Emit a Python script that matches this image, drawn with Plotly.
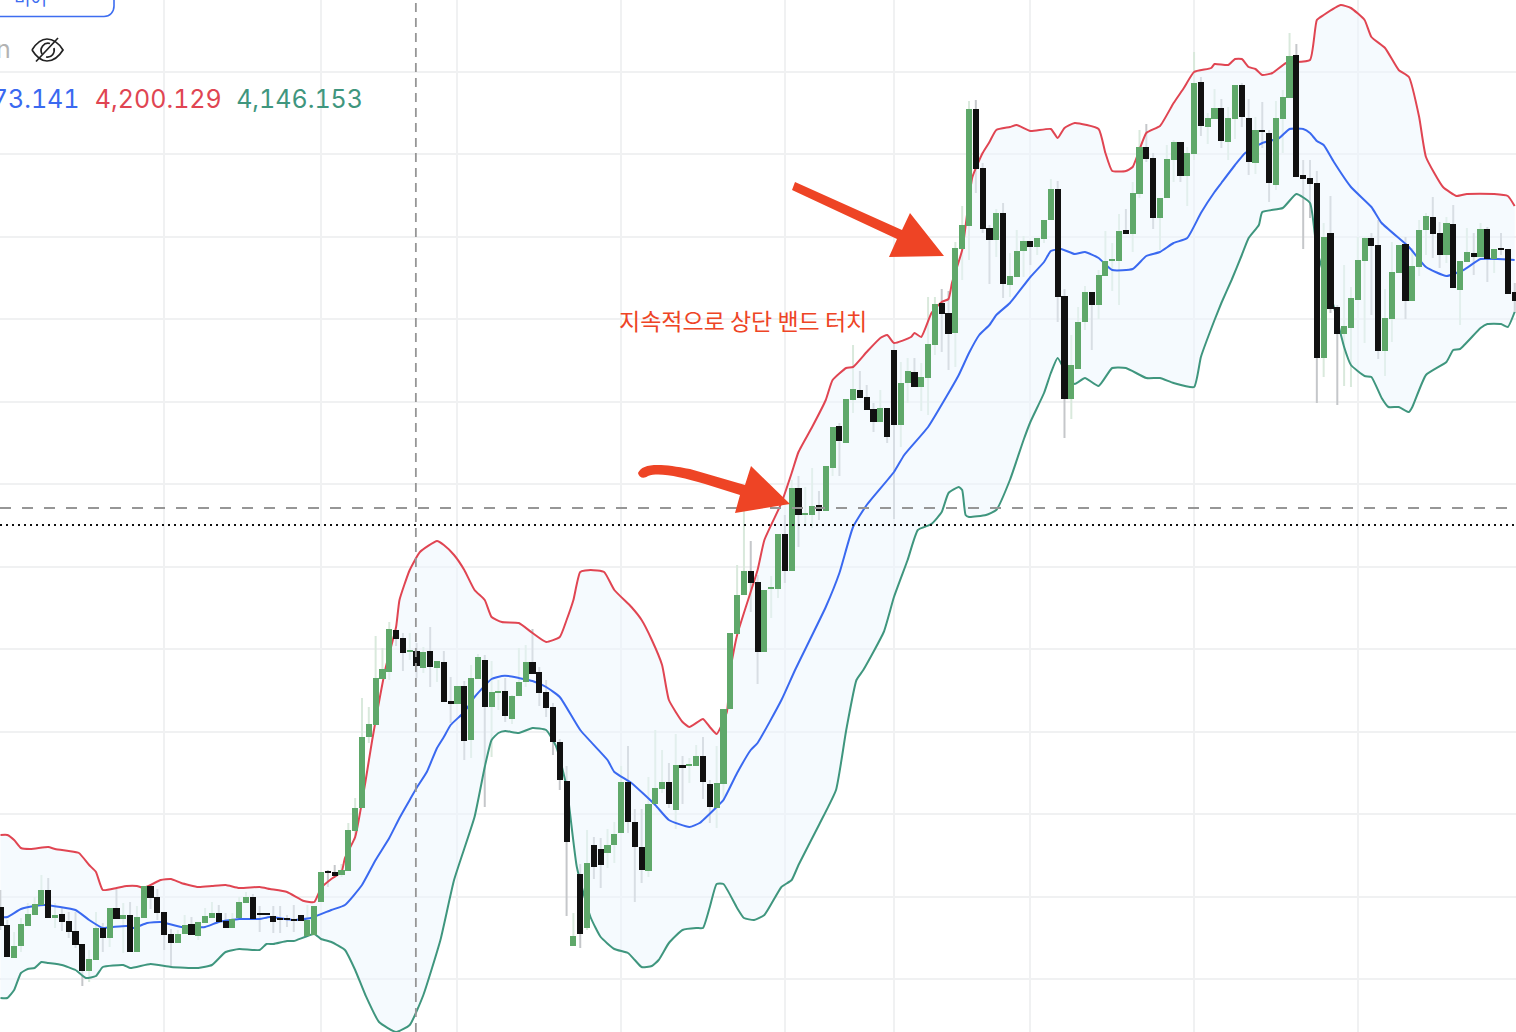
import plotly.graph_objects as go

highs = [3855,3840,3834,3841,3848.5,3851.5,3862.5,3861,3848.5,3846.5,
3844,3844,3828,3825,3844,3838.5,3846,3856,3848.5,3849,
3847,3857,3857,3855.5,3844,3835.5,3835,3842.5,3841.5,3839,
3846,3849,3847.5,3843.5,3843.5,3851.5,3854,3853,3847,3843.5,
3847,3847,3842.5,3847.5,3842.5,3847.5,3847,3864,3865,3867.5,
3868,3888.5,3901,3951,3946.5,3982,3976,3989,3985,3983.5,
3983.5,3978.5,3976.5,3986.5,3969.5,3974.5,3961.5,3957,3959.5,3967.5,
3973,3972.5,3969.5,3960,3961,3952.5,3976,3977.5,3985.5,3966.5,
3960,3948.5,3930.5,3917,3843.5,3868,3885,3881.5,3881,3885.5,
3889,3917,3927,3895.5,3895.5,3911.5,3935,3925,3918.5,3933,
3922,3921,3927.5,3931.5,3910,3927,3945.5,3983.5,4017.5,4045,
4029.5,4012.5,4005,4012,4033,4042.5,4060,4062,4056.5,4066,
4054.5,4067,4086.5,4088.5,4100.5,4127.5,4114.5,4107.5,4098.5,4105,
4096,4128.5,4119,4121,4121,4118.5,4151.5,4151.5,4155.5,4154.5,
4179,4197,4249.5,4250,4218.5,4187.5,4195.5,4198.5,4173.5,4185,
4182,4179.5,4181,4190,4210.5,4209.5,4155.5,4132.5,4146.5,4157,
4154,4165,4184.5,4178.5,4193,4195.5,4209,4235,4238,4223.5,
4201,4227.5,4230,4229,4226.5,4274,4261.5,4243.5,4255.5,4250.5,
4246.5,4257.5,4258.5,4250.5,4241.5,4249,4235,4249.5,4255,4283.5,
4278,4220,4220,4214.5,4188.5,4202,4147.5,4167.5,4156.5,4181.5,
4181.5,4183.5,4190,4155.5,4179,4177.5,4181.5,4176,4190,4193.5,
4201.5,4189,4191.5,4197.5,4169.5,4186,4183.5,4188.5,4186.5,4175.5,
4183.5,4175.5,4158.5]

body_top = [3846.5,3837.5,3827,3838,3843,3848,3855,3855,3842.5,3843,
3839.5,3834.5,3828,3820.5,3836,3836,3846,3846,3842.5,3842.5,
3841.5,3857,3857,3851.5,3844,3833,3833,3837.5,3838,3839,
3842,3843.5,3843.5,3839.5,3840.5,3849,3851.5,3851.5,3843.5,3843.5,
3842,3841,3841,3840.5,3842.5,3840,3847,3864,3864.5,3864,
3865,3885,3896,3931.5,3938,3961,3965.5,3985.5,3985,3981,
3975,3974.5,3974,3974.5,3969.5,3969,3949.5,3957,3957,3961,
3971.5,3970,3954,3954.5,3954.5,3952,3959,3969,3969,3964,
3954,3946.5,3929,3909.5,3832,3863,3868.5,3877.5,3875.5,3877.5,
3883,3909,3909,3889,3876.5,3898,3906,3909,3909,3917.5,
3917.5,3918,3922,3922,3908,3908.5,3945.5,3983.5,4002.5,4014.5,
4014.5,4009,4005,4006.5,4033,4033,4056,4056,4043.5,4047,
4047.5,4067,4086.5,4087,4100.5,4105.5,4105,4101.5,4095.5,4096,
4096,4125,4108.5,4114.5,4114,4111.5,4128,4148,4148.5,4143.5,
4176,4187.5,4245.5,4245.5,4216,4186,4193.5,4193.5,4162,4174.5,
4179.5,4179.5,4181,4190,4205.5,4205.5,4152,4117.5,4139,4154,
4154,4162.5,4169.5,4170.5,4184.5,4185,4203.5,4226.5,4226.5,4221,
4201,4220.5,4229,4229,4223.5,4258.5,4259,4241,4246,4246,
4241,4257.5,4257.5,4241,4235,4235,4233.5,4241,4251.5,4272,
4272.5,4212.5,4211,4208.5,4181.5,4183.5,4146.5,4137,4151,4170,
4181,4181,4177.5,4141,4164,4177.5,4178,4167,4185,4192,
4191.5,4183.5,4188.5,4188,4169.5,4174,4173.5,4185.5,4185.5,4175.5,
4176,4175.5,4154]

body_bottom = [3837,3821.5,3821,3827,3837,3842.5,3847.5,3841,3841,3839,
3834,3827.5,3814.5,3814.5,3820,3831,3831,3840.5,3840.5,3824,
3824,3841,3851,3843.5,3832.5,3828.5,3828.5,3833,3832.5,3832,
3838.5,3841,3839,3836,3836,3841,3848.5,3840.5,3842.5,3842.5,
3839,3840,3840,3839.5,3839.5,3832,3832.5,3849,3863.5,3862,
3862.5,3864.5,3884.5,3896,3931.5,3937.5,3960.5,3964,3980.5,3973.5,
3974,3967,3966,3966.5,3966,3949,3948,3948,3929.5,3930,
3960.5,3946.5,3946.5,3953.5,3942,3940.5,3952,3959,3963,3953.5,
3946,3929,3910,3879,3827,3833,3836,3866.5,3867.5,3873.5,
3877.5,3883.5,3889,3876.5,3865,3864.5,3898,3905.5,3898,3895,
3916,3917,3917,3909,3896.5,3896,3908,3945.5,3983,4002.5,
4008.5,3974,3974,4005.5,4005.5,4014.5,4014.5,4042.5,4042.5,4042.5,
4044.5,4044.5,4066,4079.5,4078.5,4100,4101,4095,4089,4089,
4081.5,4087.5,4087.5,4108.5,4106.5,4106.5,4111,4127.5,4143,4133,
4133.5,4175.5,4187,4215.5,4185.5,4180,4180,4158,4157.5,4161.5,
4174.5,4176.5,4176.5,4180.5,4190,4151.5,4100.5,4100.5,4115.5,4139,
4147.5,4147.5,4162,4169.5,4169.5,4183,4183,4203,4220.5,4191,
4191,4201,4220,4212,4212,4223,4237,4236.5,4240.5,4229.5,
4229,4240.5,4241.5,4219,4218.5,4234,4208.5,4207.5,4240.5,4251,
4211.5,4210.5,4208,4121,4121,4145.5,4133,4133,4136,4150,
4169.5,4177,4124.5,4124.5,4140.5,4163.5,4149.5,4149.5,4166.5,4185,
4183,4172.5,4172.5,4156,4155,4169,4171.5,4171.5,4170.5,4170.5,
4175,4153,4149.5]

lows = [3835,3821.5,3821,3824,3837,3842.5,3847.5,3841,3836,3834.5,
3831,3826,3807,3809,3820,3824,3826.5,3840.5,3823.5,3824,
3824,3841,3845.5,3840,3825,3816.5,3828.5,3833,3832.5,3830,
3838.5,3841,3839,3836,3836,3841,3848.5,3840.5,3834,3842.5,
3833.5,3833.5,3836.5,3834,3839.5,3832,3832.5,3849,3856.5,3861.5,
3861.5,3864.5,3880,3896,3928.5,3937.5,3960.5,3960,3977,3964.5,
3970,3961,3963.5,3956.5,3959,3949,3938.5,3948,3920,3921,
3960.5,3896.5,3921.5,3945,3939,3938,3952,3956.5,3963,3947,
3941.5,3922.5,3905,3842,3827,3826,3835,3860.5,3856,3866,
3868.5,3883.5,3883.5,3849,3858.5,3861.5,3898,3903.5,3896,3885.5,
3898,3908.5,3917,3900.5,3888.5,3886,3900,3945.5,3983,4002.5,
3994,3958,3974,3991,4001,4008.5,4014.5,4026.5,4037.5,4036,
4040,4044.5,4062,4062,4078.5,4093.5,4101,4095,4084,4089,
4078.5,4040.5,4076.5,4098.5,4106.5,4094.5,4092.5,4122.5,4124,4115,
4116.5,4160,4170,4203.5,4183.5,4158,4171.5,4151,4151.5,4161.5,
4161.5,4167.5,4172.5,4178.5,4190,4139,4081,4090.5,4115.5,4135,
4125,4140.5,4162,4154.5,4147.5,4183,4174,4201,4219,4185.5,
4175,4201,4209,4209,4197,4220,4232,4228,4240.5,4226,
4220,4230.5,4236.5,4212.5,4213,4226,4199,4205,4223.5,4251,
4211.5,4175.5,4191,4098.5,4111.5,4143.5,4097.5,4107,4106.5,4150,
4128.5,4142.5,4120.5,4112,4129,4163.5,4140.5,4149.5,4162,4172.5,
4171,4166,4168.5,4156,4137.5,4169,4162.5,4171.5,4159,4163.5,
4172.5,4153,4143.5]

rising = [0,0,1,1,1,1,1,0,1,0, 0,0,0,1,1,0,1,0,1,0, 1,1,0,0,0,0,1,1,0,1,
1,1,0,0,1,1,1,0,0,0, 0,0,0,0,0,1,1,1,0,0, 1,1,1,1,1,1,1,1,0,0,
1,0,1,0,1,0,0,1,0,1, 1,0,1,1,0,1,1,1,0,0, 0,0,0,0,1,0,1,0,0,1,
1,1,0,0,0,1,1,1,0,1, 0,1,1,0,0,1,1,1,1,1, 0,0,1,1,1,0,1,0,1,1,
0,1,1,0,1,1,0,0,0,1, 0,0,1,1,0,1,1,1,0,0, 1,1,1,0,0,0,1,0,1,1,
1,0,1,1,1,0,0,1,1,1, 0,1,1,1,1,0,1,1,0,0, 1,1,1,0,1,1,0,1,1,0,
1,1,0,0,1,0,0,1,1,1, 0,0,0,0,1,0,0,1,1,1, 1,0,0,1,1,1,0,1,1,1,
0,0,1,0,1,1,0,1,0,1, 0,0,0]

upper_i = [0,1,2,3,4.5,7,8,10,11.5,13,14,15,17,18.5,20,21,23.5,25,26.5,29,31,33,35,38,39.5,42,44.5,46,47,48.5,
50,50.5,52,53.5,54.5,56.5,58,58.5,60,61.5,64,65,66.5,68,69.5,71,72,73.5,76,78,80,82,83,84,85,86.5,88.5,90,92.5,94,
95.5,97,98,100,101,103,104,105,106.5,107,108,111,112,114.5,116,117,119,121,122,124,125,127,129,130,131,133.5,134,135,136.5,138,
139,139.5,141,142.5,144,145,146,148,149,151,154,155,156,157.5,161,162,163,165,166,168,170,172,173.5,175,177.5,178,180,181,182,183,
184,185,186.5,188.5,192,193,194,196.5,198,200,201,203,205,206.5,208,209,211.5,213.5,215,219,221,222]
upper_band = [3882.5,3882.5,3880,3876,3875.5,3876.5,3875.5,3874.5,3873.5,3867.5,3864,3855,3856,3857,3857,3856,3860,3860.5,3858.5,3856.5,3857,3857.5,3856,3856.5,3855.5,3854,3849.5,3849,3856,3860.5,
3864,3871,3881.5,3909,3930,3966.5,3986.5,4000,4015,4024,4029.5,4027.5,4022.5,4015,4005,4000,3991.5,3989,3988.5,3983.5,3979,3981.5,3990,4000,4014,4015,4014,4005,3996.5,3990,
3980,3967.5,3950,3939,3936.5,3940.5,3936.5,3933,3944,3965,3982.5,4015,4030,4048.5,4063.5,4074,4086.5,4100,4110,4116,4116.5,4124,4131,4132.5,4128.5,4131.5,4133.5,4131.5,4143.5,4149,
4150.5,4158.5,4175,4211.5,4223.5,4229,4235,4236.5,4237.5,4234.5,4235.5,4231,4236,4238.5,4235.5,4223.5,4214.5,4214.5,4216.5,4233.5,4237,4248.5,4256,4264,4266,4268,4267.5,4270.5,4270.5,4266.5,
4265.5,4262.5,4263.5,4268.5,4270,4290,4292.5,4297.5,4296,4290,4281.5,4276,4265,4261.5,4241.5,4221.5,4206.5,4202,4203,4203,4202,4197]

lower_i = [0,1,2,3,4,5,6,7,9,11,12.5,14,15,18,19,22,25,29,31,33,35,38,39,40,42,43,46,47,48.5,50.5,
52,53.5,55.5,58,60,62,64.5,66.5,69.5,71,72,73,74,76,78,80,81.5,83,84.5,86.5,88,90,92,93,94,95.5,96.5,98,100,102,
103,104,105,106,108,109,110.5,112,114.5,116,117,120,122.5,124,125.5,126.5,129.5,131,133,134.5,136.5,138,139,140.5,141,141.5,142,144.5,146,148,
150,151,153,154,155,156.5,157.5,159,161,163,165,168,170,172,175,176,178,179,180.5,182,183,184.5,185,188,190,192,193,195.5,197,198,
200,201,202.5,203.5,205,206.5,207,209,212,213,214,217,218,220,221,222]
lower_band = [3801,3801,3805,3813.5,3815.5,3816,3819,3818.5,3817.5,3815,3811,3812,3816.5,3817.5,3816,3818,3816.5,3816,3817.5,3824,3825.5,3825,3828,3828,3829.5,3829.5,3833,3830.5,3829,3825,
3815,3802.5,3789,3784,3787.5,3802.5,3830,3860,3891.5,3916.5,3930,3933.5,3934.5,3933.5,3936,3935,3926.5,3906.5,3866.5,3841.5,3831.5,3825.5,3823.5,3820,3816.5,3817,3820,3828.5,3835,3836,
3836,3846.5,3858,3858,3846,3841,3840,3842.5,3856.5,3860,3867.5,3887.5,3905,3935,3960,3965,3984,4001.5,4020,4035,4038,4044,4053.5,4056.5,4055,4042.5,4041.5,4042.5,4045,4060,
4080,4089,4103.5,4113.5,4121,4111.5,4108,4111,4107,4116,4116,4111,4111,4108.5,4106.5,4121.5,4140,4148.5,4160,4172.5,4181,4187.5,4194,4196,4203,4198.5,4175,4146.5,4126.5,4117.5,
4112,4111.5,4101,4096.5,4096.5,4094,4096.5,4112.5,4119,4125,4125.5,4136,4138,4138,4136.5,4144]

middle_i = [0,1,3,5,6.5,11,13,15,16.5,18.5,19.5,21.5,23.5,26.5,30,32,35,38,39.5,43,45.5,48.5,50.5,53,55,57,58.5,60,61,62.5,
64,65,66,68,69.5,72,73.5,74.5,76,78,80,82,85,89,90,92.5,96,98,101,102.5,105,106,108,110,111,114.5,116.5,121,123,125,
127,131,132.5,136,139,140.5,142,143.5,145,146,148,151,153,154,155.5,157.5,159,161,163,166,168,170,172,174,176,178,179,181,182.5,185,
187.5,189,191,192,193,194,195.5,198,201,202.5,206.5,209,212,214.5,217,219.5,222]
middle_band = [3841.5,3841.5,3845.5,3847,3847.5,3845,3840,3836,3836.5,3837,3836,3838.5,3839,3836.5,3836.5,3839,3840.5,3840.5,3841.5,3840,3841,3845,3847.5,3857.5,3870,3881,3891,3900,3906,3914,
3926,3931.5,3937.5,3944,3951.5,3960.5,3962,3962,3961,3959.5,3956.5,3951.5,3935,3920,3914,3908.5,3897.5,3890,3886.5,3888.5,3896.5,3900,3913.5,3925,3928.5,3950,3965,3996.5,4013.5,4036.5,
4047.5,4064,4072.5,4086.5,4103.5,4112.5,4123.5,4132.5,4137.5,4142.5,4148.5,4161.5,4169,4174.5,4175.5,4173,4174,4171,4165,4165.5,4172,4174,4178.5,4181,4193.5,4204,4208.5,4217.5,4223.5,4228.5,
4231,4235.5,4235.5,4233.5,4229.5,4227.5,4219,4206.5,4196.5,4188.5,4176.5,4166.5,4162,4165,4170.5,4170.5,4170]

x_grid = [0,24,47,67,91,115,131,151,175,199]
y_grid = [4264.15,4222.9,4181.65,4140.4,4099.15,4057.9,4016.65,3975.4,3934.15,3892.9,3851.65,3810.4]
crosshair_x = 60.9
crosshair_y = 4046
last_price = 4037.5
legend_labels = ["4,173.141", "4,200.129", "4,146.153"]
note = "지속적으로 상단 밴드 터치"

W, H = 1516, 1032
X_RANGE = [-0.073, 222.2]
Y_RANGE = [3784, 4300]
BLUE, RED, TEAL = "#3a69f0", "#e04552", "#3f967e"
ORANGE = "#ee4425"
GREEN_BODY, BLACK_BODY = "#5fa86a", "#111111"
GREEN_WICK, BLACK_WICK = "#d9e9dc", "#c5c7ca"
BAND_LINE = 2
SMOOTH = 0.45


def fx(v):
    return v / W


def fy(v):
    return 1 - v / H


def path(cmds, close=False):
    out = []
    for c in cmds:
        op, pts = c[0], c[1:]
        if op == "C":
            out.append("C" + " ".join(f"{fx(a):.5f},{fy(b):.5f}" for a, b in pts))
        else:
            for a, b in pts:
                out.append(f"{op}{fx(a):.5f},{fy(b):.5f}")
    return " ".join(out) + (" Z" if close else "")


n = len(highs)
idx = list(range(n))

fig = go.Figure()

for flag, colour in ((1, GREEN_WICK), (0, BLACK_WICK)):
    xs, ys = [], []
    for i in idx:
        if rising[i] == flag:
            xs += [i, i, None]
            ys += [lows[i], highs[i], None]
    fig.add_trace(go.Scatter(x=xs, y=ys, mode="lines", line=dict(color=colour, width=2), hoverinfo="skip", showlegend=False))

fig.add_trace(go.Scatter(x=lower_i, y=lower_band, mode="lines", line=dict(color=TEAL, width=BAND_LINE, shape="spline", smoothing=SMOOTH),
                         hoverinfo="skip", showlegend=False))
fig.add_trace(go.Scatter(x=upper_i, y=upper_band, mode="lines", line=dict(color=RED, width=BAND_LINE, shape="spline", smoothing=SMOOTH),
                         fill="tonexty", fillcolor="rgba(235,245,253,0.5)", hoverinfo="skip", showlegend=False))
fig.add_trace(go.Scatter(x=middle_i, y=middle_band, mode="lines", line=dict(color=BLUE, width=BAND_LINE, shape="spline", smoothing=SMOOTH),
                         hoverinfo="skip", showlegend=False))

for flag, colour in ((1, GREEN_BODY), (0, BLACK_BODY)):
    sel = [i for i in idx if rising[i] == flag]
    fig.add_trace(go.Bar(x=sel, y=[body_top[i] - body_bottom[i] for i in sel], base=[body_bottom[i] for i in sel],
                         width=0.9, marker=dict(color=colour, line=dict(width=0)), hoverinfo="skip", showlegend=False,
                         xaxis="x2", yaxis="y2"))

ink = dict(color="#222222", width=1.7)
shapes = [
    dict(type="line", xref="x", yref="paper", x0=crosshair_x, x1=crosshair_x, y0=0, y1=1, layer="above",
         line=dict(color="#969696", width=1.8, dash="9px,6px")),
    dict(type="line", xref="paper", yref="y", x0=0, x1=1, y0=crosshair_y, y1=crosshair_y, layer="above",
         line=dict(color="#969696", width=1.8, dash="11px,11px")),
    dict(type="line", xref="paper", yref="y", x0=0, x1=1, y0=last_price, y1=last_price, layer="above",
         line=dict(color="#111111", width=2, dash="2px,4px")),
    dict(type="path", xref="paper", yref="paper", layer="above", fillcolor=ORANGE, line=dict(width=0),
         path=path([("M", (795, 182)), ("L", (902, 230), (910, 213), (944, 256), (889, 257), (897, 239), (792, 190))], close=True)),
    dict(type="path", xref="paper", yref="paper", layer="above", fillcolor=ORANGE, line=dict(width=0),
         path=path([("M", (638, 473)), ("C", (642, 463), (660, 463), (690, 469)),
                    ("L", (745, 485), (751, 466), (790, 504), (735, 513), (740, 495), (705, 484)),
                    ("C", (680, 477), (660, 472), (648, 476)), ("C", (644, 479), (639, 478), (638, 473))], close=True)),
    dict(type="path", xref="paper", yref="paper", layer="above", line=dict(color="#3d6df0", width=1.6),
         path=path([("M", (0, 16.5)), ("L", (104, 16.5)), ("C", (110, 16.5), (114, 12), (114, 6)), ("L", (114, -2))])),
    dict(type="path", xref="paper", yref="paper", layer="above", line=ink,
         path=path([("M", (32, 50)), ("C", (37, 42), (42, 39), (47, 39)), ("C", (53, 39), (58, 42), (63, 50)),
                    ("C", (58, 58), (53, 61), (47, 61)), ("C", (42, 61), (37, 58), (32, 50))])),
    dict(type="path", xref="paper", yref="paper", layer="above", line=ink, path=path([("M", (36, 61.5)), ("L", (58, 38))])),
    dict(type="path", xref="paper", yref="paper", layer="above", line=ink, path=path([("M", (50, 43.5)), ("C", (44, 42), (39, 48), (42, 54))])),
    dict(type="path", xref="paper", yref="paper", layer="above", line=ink, path=path([("M", (54, 48)), ("C", (55, 53), (52, 58), (46, 57))])),
]

annotations = [
    dict(text=legend_labels[0], x=fx(15.5), y=fy(99), xanchor="center", yanchor="middle", font=dict(family="Inter", size=25, color=BLUE)),
    dict(text=legend_labels[1], x=fx(158.5), y=fy(99), xanchor="center", yanchor="middle", font=dict(family="Inter", size=25, color=RED)),
    dict(text=legend_labels[2], x=fx(299.5), y=fy(99), xanchor="center", yanchor="middle", font=dict(family="Inter", size=25, color=TEAL)),
    dict(text=note, x=fx(619), y=fy(320), xanchor="left", yanchor="middle", font=dict(family="Noto Sans CJK KR", size=23, color=ORANGE)),
    dict(text="비어", x=fx(30), y=fy(-3), xanchor="center", yanchor="middle", font=dict(family="Noto Sans CJK KR", size=18, color="#3d6df0")),
    dict(text="n", x=fx(11), y=fy(49), xanchor="right", yanchor="middle", font=dict(family="Inter", size=25, color="#b3b3b3")),
]
for a in annotations:
    a.update(xref="paper", yref="paper", showarrow=False, borderpad=0, borderwidth=0)

axis_off = dict(showticklabels=False, ticks="", zeroline=False, showline=False)
fig.update_layout(
    width=W, height=H, margin=dict(l=0, r=0, t=0, b=0, pad=0), autosize=False,
    paper_bgcolor="white", plot_bgcolor="white", showlegend=False, barmode="overlay", bargap=0,
    xaxis=dict(range=X_RANGE, tickmode="array", tickvals=x_grid, showgrid=True, gridcolor="#f0f1f2", gridwidth=1.6, **axis_off),
    yaxis=dict(range=Y_RANGE, tickmode="array", tickvals=y_grid, showgrid=True, gridcolor="#f0f1f2", gridwidth=1.6, **axis_off),
    xaxis2=dict(range=X_RANGE, overlaying="x", showgrid=False, visible=False),
    yaxis2=dict(range=Y_RANGE, overlaying="y", showgrid=False, visible=False),
    shapes=shapes, annotations=annotations,
)

fig.write_html("out.html", config=dict(displayModeBar=False),
               post_script=("document.body.style.margin='0';document.documentElement.style.overflow='hidden';"
                            "document.querySelectorAll('.annotation-text').forEach(function(t){"
                            "if(t.textContent.indexOf('4,')===0){t.style.fontFeatureSettings='\"tnum\"';}});"))
